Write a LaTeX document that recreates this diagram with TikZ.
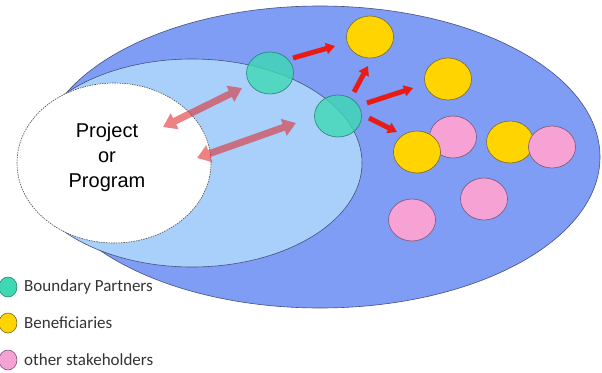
\documentclass[tikz,border=0pt]{standalone}
\usepackage{fontspec}
\setmainfont{Liberation Sans}
\newfontfamily\legendfont{Carlito}
\usetikzlibrary{arrows.meta,shapes.geometric}

\definecolor{outerblue}{RGB}{128,157,245}
\definecolor{innerblue}{RGB}{168,208,250}
\definecolor{zoneline}{RGB}{70,80,125}
\definecolor{partnerteal}{RGB}{62,216,180}
\definecolor{partnerline}{RGB}{40,130,115}
\definecolor{benyellow}{RGB}{255,212,0}
\definecolor{benline}{RGB}{120,105,40}
\definecolor{otherpink}{RGB}{247,162,213}
\definecolor{otherline}{RGB}{120,85,120}
\definecolor{pushred}{RGB}{232,28,20}
\definecolor{linkred}{RGB}{225,45,50}

\tikzset{
  zone/.style={ellipse, draw=zoneline, line width=0.6pt, inner sep=0pt},
  actor/.style={ellipse, line width=0.6pt, inner sep=0pt, minimum width=47pt, minimum height=42pt},
  partner/.style={actor, draw=partnerline, fill=partnerteal, fill opacity=0.8},
  beneficiary/.style={actor, draw=benline, fill=benyellow},
  other/.style={actor, draw=otherline, fill=otherpink},
  key/.style={minimum width=18pt, minimum height=20pt},
  keytext/.style={anchor=west, inner sep=0pt, font=\legendfont\fontsize{17}{20}\selectfont, text=black!80},
  push/.style={draw=pushred, line width=5pt, -{Triangle[width=11pt,length=9pt]}},
  link/.style={draw=linkred, line width=7pt, {Triangle[width=17pt,length=13pt]}-{Triangle[width=17pt,length=13pt]}}
}

\begin{document}
\begin{tikzpicture}[x=1pt,y=-1pt]
\useasboundingbox (0,0) rectangle (602,372);
% zones
\node[zone, fill=outerblue, minimum width=560pt, minimum height=302pt] (outer) at (320,157) {};
\node[zone, fill=innerblue, minimum width=340pt, minimum height=208pt] (inner) at (192,163) {};
\node[zone, fill=white, draw=black!70, dashed, dash pattern=on 1.5pt off 1pt, minimum width=194pt, minimum height=160pt] (prog) at (114,163) {};
\node[align=center, font=\fontsize{20}{25}\selectfont] (progtext) at (107,157) {Project\\or\\Program};

% stakeholders
\node[other] (oth1) at (453,137) {};
\node[beneficiary] (ben1) at (370,37) {};
\node[beneficiary] (ben2) at (448,79) {};
\node[beneficiary] (ben3) at (417,152) {};
\node[beneficiary] (ben4) at (510,142) {};
\node[other] (oth2) at (552,147) {};
\node[other] (oth3) at (484,199) {};
\node[other] (oth4) at (412,220) {};
\node[partner] (bp1) at (270,73) {};
\node[partner] (bp2) at (338,116) {};

% arrows
\coordinate (l1a) at (163,127);
\coordinate (l1b) at (242,88);
\coordinate (l2a) at (197,158);
\coordinate (l2b) at (296,123);
\begin{scope}[transparency group, opacity=0.6]
\draw[link] (l1a) -- (l1b);
\draw[link] (l2a) -- (l2b);
\end{scope}
\coordinate (p1a) at (293,58);
\coordinate (p1b) at (335,46);
\coordinate (p2a) at (354,92);
\coordinate (p2b) at (368,66);
\coordinate (p3a) at (367,103);
\coordinate (p3b) at (413,88);
\coordinate (p4a) at (369,118);
\coordinate (p4b) at (397,132);
\draw[push] (p1a) -- (p1b);
\draw[push] (p2a) -- (p2b);
\draw[push] (p3a) -- (p3b);
\draw[push] (p4a) -- (p4b);

% legend
\node[partner, key, fill opacity=1] (keybp) at (8,287) {};
\node[beneficiary, key] (keyben) at (8,323) {};
\node[other, key] (keyoth) at (8,360) {};
\node[keytext] (keybptext) at (24,287) {Boundary Partners};
\node[keytext] (keybentext) at (24,323) {Beneficiaries};
\node[keytext] (keyothtext) at (24,360) {other stakeholders};
\end{tikzpicture}
\end{document}
